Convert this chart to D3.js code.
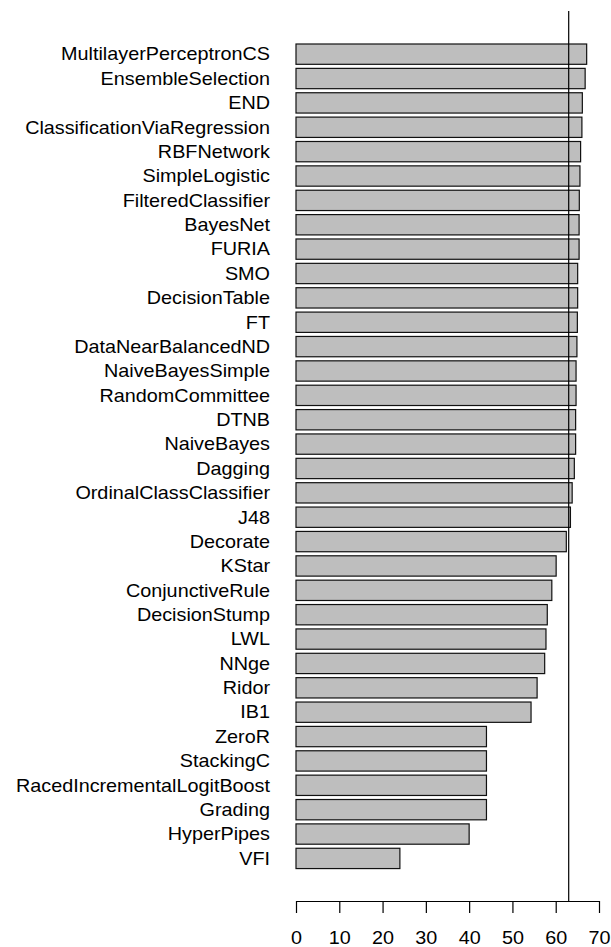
<!DOCTYPE html>
<html>
<head>
<meta charset="utf-8">
<script src="https://cdn.jsdelivr.net/npm/d3@7"></script>
<style>
  body { margin: 0; background: #fff; }
  text { font-family: "Liberation Sans", Arial, sans-serif; fill: #000; }
</style>
</head>
<body>
<div id="chart"></div>
<script>
var classifiers = ["MultilayerPerceptronCS", "EnsembleSelection", "END", "ClassificationViaRegression",
  "RBFNetwork", "SimpleLogistic", "FilteredClassifier", "BayesNet", "FURIA", "SMO", "DecisionTable",
  "FT", "DataNearBalancedND", "NaiveBayesSimple", "RandomCommittee", "DTNB", "NaiveBayes", "Dagging",
  "OrdinalClassClassifier", "J48", "Decorate", "KStar", "ConjunctiveRule", "DecisionStump", "LWL",
  "NNge", "Ridor", "IB1", "ZeroR", "StackingC", "RacedIncrementalLogitBoost", "Grading", "HyperPipes", "VFI"];

var accuracy = [67.15, 66.8, 66.15, 66.05, 65.75, 65.6, 65.45, 65.4, 65.4, 65.07, 65.07,
  65.0, 64.9, 64.7, 64.7, 64.6, 64.6, 64.3, 63.8, 63.4, 62.45, 60.1, 59.1, 58.05, 57.75,
  57.45, 55.7, 54.3, 44.0, 44.0, 44.0, 44.0, 40.0, 24.0];

var xTicks = [0, 10, 20, 30, 40, 50, 60, 70];
var refLine = 63;

var width = 611, height = 947;
var fontSize = 18, stretch = 1.1;

var svg = d3.select("#chart").append("svg")
  .attr("width", width)
  .attr("height", height);

var x = d3.scaleLinear().domain([0, 70]).range([296, 599]);

var y = d3.scaleBand()
  .domain(classifiers)
  .range([41.97, 870.6])
  .paddingInner(0.1667)
  .paddingOuter(0.0833);

// bars
svg.selectAll("rect.bar")
  .data(classifiers)
  .enter().append("rect")
  .attr("class", "bar")
  .attr("x", x(0))
  .attr("y", function(d) { return y(d); })
  .attr("width", function(d, i) { return x(accuracy[i]) - x(0); })
  .attr("height", y.bandwidth())
  .attr("fill", "#bebebe")
  .attr("stroke", "#111")
  .attr("stroke-width", 1.2);

// category labels
svg.selectAll("text.label")
  .data(classifiers)
  .enter().append("text")
  .attr("class", "label")
  .attr("transform", function(d) {
    return "translate(270," + (y(d) + y.bandwidth() / 2) + ") scale(" + stretch + ",1)";
  })
  .attr("text-anchor", "end")
  .attr("dy", "0.35em")
  .style("font-size", fontSize + "px")
  .text(function(d) { return d; });

// reference line
svg.append("line")
  .attr("x1", x(refLine)).attr("x2", x(refLine))
  .attr("y1", 11).attr("y2", 901)
  .attr("stroke", "#000")
  .attr("stroke-width", 1.2);

// x axis
var axis = svg.append("g")
  .attr("transform", "translate(0,901)")
  .call(d3.axisBottom(x).tickValues(xTicks).tickSize(12).tickSizeOuter(0).tickPadding(14));

axis.select(".domain").attr("stroke", "#000").attr("stroke-width", 1.2);
axis.selectAll(".tick line").attr("stroke", "#000").attr("stroke-width", 1.2);
axis.selectAll(".tick text")
  .style("font-size", fontSize + "px")
  .style("font-family", "Liberation Sans, Arial, sans-serif")
  .attr("fill", "#000")
  .attr("dy", "0")
  .attr("y", 43)
  .attr("transform", "scale(" + stretch + ",1)")
  .attr("x", 0);
</script>
</body>
</html>
